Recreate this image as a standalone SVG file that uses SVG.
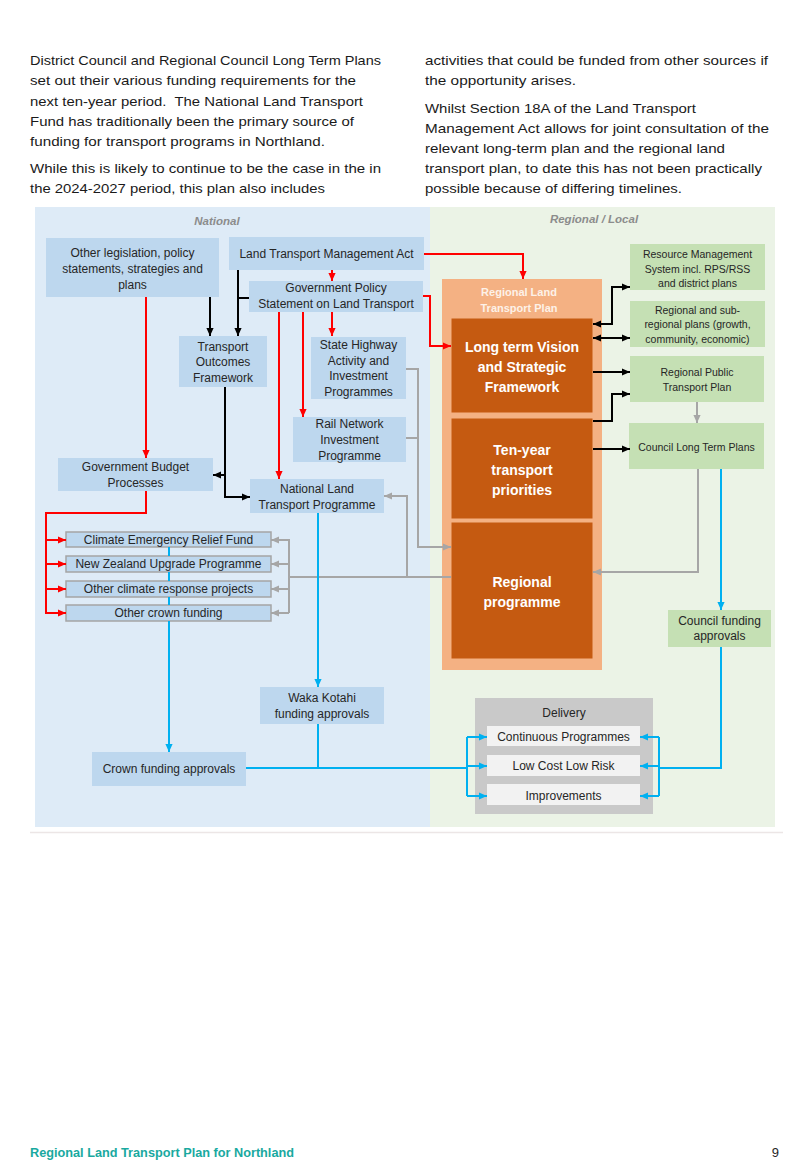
<svg xmlns="http://www.w3.org/2000/svg" width="806" height="1169" viewBox="0 0 806 1169">
<defs>
<style>
text{font-family:"Liberation Sans",Arial,sans-serif}
.p{font-size:13.5px;fill:#1a1a1a}
.t{font-size:12px;fill:#262626;text-anchor:middle}
.s{font-size:10.5px;fill:#262626;text-anchor:middle}
.w{font-size:14px;font-weight:bold;fill:#ffffff;text-anchor:middle}
.h{font-size:11.5px;font-weight:bold;font-style:italic;fill:#8c8c8c;text-anchor:middle}
.nb{fill:#bdd7ee}
.nf{fill:#bdd7ee;stroke:#a5a5a5;stroke-width:1.5}
.ng{fill:#c5e0b4}
.no{fill:#c55a11;stroke:#f4b183;stroke-width:1}
.nd{fill:#f2f2f2}
.red{stroke:#ff0000;stroke-width:2;fill:none}
.blk{stroke:#000000;stroke-width:2;fill:none}
.gry{stroke:#a6a6a6;stroke-width:2;fill:none}
.blu{stroke:#00b0f0;stroke-width:2;fill:none}
</style>
<marker id="mr" viewBox="0 0 10 10" refX="10" refY="5" markerWidth="8" markerHeight="8" markerUnits="userSpaceOnUse" orient="auto-start-reverse"><path d="M0,0.5 L10,5 L0,9.5 z" fill="#ff0000"/></marker>
<marker id="mk" viewBox="0 0 10 10" refX="10" refY="5" markerWidth="8" markerHeight="8" markerUnits="userSpaceOnUse" orient="auto-start-reverse"><path d="M0,0.5 L10,5 L0,9.5 z" fill="#000000"/></marker>
<marker id="mg" viewBox="0 0 10 10" refX="10" refY="5" markerWidth="8" markerHeight="8" markerUnits="userSpaceOnUse" orient="auto-start-reverse"><path d="M0,0.5 L10,5 L0,9.5 z" fill="#a6a6a6"/></marker>
<marker id="mb" viewBox="0 0 10 10" refX="10" refY="5" markerWidth="8" markerHeight="8" markerUnits="userSpaceOnUse" orient="auto-start-reverse"><path d="M0,0.5 L10,5 L0,9.5 z" fill="#00b0f0"/></marker>
</defs>
<rect x="0" y="0" width="806" height="1169" fill="#ffffff"/>

<g id="body-text">
<text class="p" x="30" y="65" textLength="351" lengthAdjust="spacingAndGlyphs">District Council and Regional Council Long Term Plans</text>
<text class="p" x="30" y="85" textLength="326" lengthAdjust="spacingAndGlyphs">set out their various funding requirements for the</text>
<text class="p" x="30" y="106" textLength="333" lengthAdjust="spacingAndGlyphs" xml:space="preserve">next ten-year period.  The National Land Transport</text>
<text class="p" x="30" y="126" textLength="324" lengthAdjust="spacingAndGlyphs">Fund has traditionally been the primary source of</text>
<text class="p" x="30" y="146" textLength="295" lengthAdjust="spacingAndGlyphs">funding for transport programs in Northland.</text>
<text class="p" x="30" y="173" textLength="351" lengthAdjust="spacingAndGlyphs">While this is likely to continue to be the case in the in</text>
<text class="p" x="30" y="193" textLength="295" lengthAdjust="spacingAndGlyphs">the 2024-2027 period, this plan also includes</text>
<text class="p" x="425" y="65" textLength="343" lengthAdjust="spacingAndGlyphs">activities that could be funded from other sources if</text>
<text class="p" x="425" y="85" textLength="151" lengthAdjust="spacingAndGlyphs">the opportunity arises.</text>
<text class="p" x="425" y="113" textLength="271" lengthAdjust="spacingAndGlyphs">Whilst Section 18A of the Land Transport</text>
<text class="p" x="425" y="133" textLength="344" lengthAdjust="spacingAndGlyphs">Management Act allows for joint consultation of the</text>
<text class="p" x="425" y="153" textLength="300" lengthAdjust="spacingAndGlyphs">relevant long-term plan and the regional land</text>
<text class="p" x="425" y="173" textLength="337" lengthAdjust="spacingAndGlyphs">transport plan, to date this has not been practically</text>
<text class="p" x="425" y="193" textLength="257" lengthAdjust="spacingAndGlyphs">possible because of differing timelines.</text>
</g>

<g id="panels">
<rect x="35" y="207" width="395" height="620" fill="#deebf7"/>
<rect x="430" y="207" width="345" height="620" fill="#ebf3e6"/>
<text class="h" x="217" y="225">National</text>
<text class="h" x="594" y="223">Regional / Local</text>
<line x1="30" y1="832.5" x2="783" y2="832.5" stroke="#ece6e6" stroke-width="1.5"/>
</g>

<g id="n-other-legislation"><rect class="nb" x="46" y="238" width="173" height="59"/>
<text class="t" x="132.5" y="257">Other legislation, policy</text>
<text class="t" x="132.5" y="273">statements, strategies and</text>
<text class="t" x="132.5" y="289">plans</text></g>
<g id="n-ltma"><rect class="nb" x="229" y="237" width="195" height="33"/>
<text class="t" x="326.5" y="258">Land Transport Management Act</text></g>
<g id="n-gps"><rect class="nb" x="249" y="281" width="174" height="31"/>
<text class="t" x="336" y="292">Government Policy</text>
<text class="t" x="336" y="308">Statement on Land Transport</text></g>
<g id="n-tof"><rect class="nb" x="179" y="336" width="88" height="51"/>
<text class="t" x="223" y="351">Transport</text>
<text class="t" x="223" y="366">Outcomes</text>
<text class="t" x="223" y="382">Framework</text></g>
<g id="n-state-highway"><rect class="nb" x="311" y="337" width="95" height="62"/>
<text class="t" x="358.5" y="349">State Highway</text>
<text class="t" x="358.5" y="365">Activity and</text>
<text class="t" x="358.5" y="380">Investment</text>
<text class="t" x="358.5" y="396">Programmes</text></g>
<g id="n-rail"><rect class="nb" x="293" y="417" width="113" height="45"/>
<text class="t" x="349.5" y="428">Rail Network</text>
<text class="t" x="349.5" y="444">Investment</text>
<text class="t" x="349.5" y="460">Programme</text></g>
<g id="n-nltp"><rect class="nb" x="250" y="479" width="134" height="34"/>
<text class="t" x="317" y="493">National Land</text>
<text class="t" x="317" y="509">Transport Programme</text></g>
<g id="n-budget"><rect class="nb" x="58" y="458" width="155" height="33"/>
<text class="t" x="135.5" y="471">Government Budget</text>
<text class="t" x="135.5" y="487">Processes</text></g>
<g id="n-cerf"><rect class="nf" x="66" y="532" width="205" height="15"/>
<text class="t" x="168.5" y="544">Climate Emergency Relief Fund</text></g>
<g id="n-nzup"><rect class="nf" x="66" y="556" width="205" height="16"/>
<text class="t" x="168.5" y="568">New Zealand Upgrade Programme</text></g>
<g id="n-climate"><rect class="nf" x="66" y="581" width="205" height="16"/>
<text class="t" x="168.5" y="593">Other climate response projects</text></g>
<g id="n-crown-other"><rect class="nf" x="66" y="605" width="205" height="16"/>
<text class="t" x="168.5" y="617">Other crown funding</text></g>
<g id="n-waka"><rect class="nb" x="260" y="687" width="124" height="37"/>
<text class="t" x="322" y="702">Waka Kotahi</text>
<text class="t" x="322" y="718">funding approvals</text></g>
<g id="n-crown-approvals"><rect class="nb" x="92" y="752" width="154" height="34"/>
<text class="t" x="169" y="773">Crown funding approvals</text></g>

<g id="n-rltp"><rect x="442" y="279" width="160" height="391" fill="#f4b183"/>
<text x="519" y="296" style="font-size:11px;font-weight:bold;fill:#fdf1e8;text-anchor:middle">Regional Land</text>
<text x="519" y="312" style="font-size:11px;font-weight:bold;fill:#fdf1e8;text-anchor:middle">Transport Plan</text></g>
<g id="n-ltv"><rect class="no" x="451" y="318" width="142" height="95"/>
<text class="w" x="522" y="352">Long term Vision</text>
<text class="w" x="522" y="372">and Strategic</text>
<text class="w" x="522" y="392">Framework</text></g>
<g id="n-tenyear"><rect class="no" x="451" y="418" width="142" height="101"/>
<text class="w" x="522" y="455">Ten-year</text>
<text class="w" x="522" y="475">transport</text>
<text class="w" x="522" y="495">priorities</text></g>
<g id="n-regprog"><rect class="no" x="451" y="522" width="142" height="137"/>
<text class="w" x="522" y="587">Regional</text>
<text class="w" x="522" y="607">programme</text></g>

<g id="n-rms"><rect class="ng" x="630" y="244" width="135" height="46"/>
<text class="s" x="697.5" y="258">Resource Management</text>
<text class="s" x="697.5" y="273">System incl. RPS/RSS</text>
<text class="s" x="697.5" y="287">and district plans</text></g>
<g id="n-subregional"><rect class="ng" x="630" y="301" width="135" height="46"/>
<text class="s" x="697.5" y="314">Regional and sub-</text>
<text class="s" x="697.5" y="328">regional plans (growth,</text>
<text class="s" x="697.5" y="343">community, economic)</text></g>
<g id="n-rptp"><rect class="ng" x="630" y="356" width="134" height="46"/>
<text class="s" x="697" y="376">Regional Public</text>
<text class="s" x="697" y="391">Transport Plan</text></g>
<g id="n-cltp"><rect class="ng" x="629" y="423" width="135" height="46"/>
<text class="s" x="696.5" y="451">Council Long Term Plans</text></g>
<g id="n-cfa"><rect class="ng" x="668" y="610" width="103" height="37"/>
<text class="t" x="719.5" y="625">Council funding</text>
<text class="t" x="719.5" y="640">approvals</text></g>

<g id="n-delivery"><rect x="475" y="698" width="178" height="116" fill="#c9c9c9"/>
<text class="t" x="564" y="717">Delivery</text></g>
<g id="n-continuous"><rect class="nd" x="487" y="726" width="153" height="20"/>
<text class="t" x="563.5" y="741">Continuous Programmes</text></g>
<g id="n-lclr"><rect class="nd" x="487" y="755" width="153" height="21"/>
<text class="t" x="563.5" y="770">Low Cost Low Risk</text></g>
<g id="n-improvements"><rect class="nd" x="487" y="784" width="153" height="21"/>
<text class="t" x="563.5" y="800">Improvements</text></g>

<g id="connectors">
<path class="red" d="M424,254 H523 V279" marker-end="url(#mr)"/>
<path class="red" d="M423,296 H430 V346 H451" marker-end="url(#mr)"/>
<path class="red" d="M332,270 V281" marker-end="url(#mr)"/>
<path class="red" d="M332,312 V336" marker-end="url(#mr)"/>
<path class="red" d="M279,312 V479" marker-end="url(#mr)"/>
<path class="red" d="M303,312 V417" marker-end="url(#mr)"/>
<path class="red" d="M146,297 V458" marker-end="url(#mr)"/>
<path class="red" d="M146,491 V513 H46 V613 H66" marker-end="url(#mr)"/>
<path class="red" d="M46,540 H66" marker-end="url(#mr)"/>
<path class="red" d="M46,564 H66" marker-end="url(#mr)"/>
<path class="red" d="M46,589 H66" marker-end="url(#mr)"/>

<path class="blk" d="M210,297 V336" marker-end="url(#mk)"/>
<path class="blk" d="M238,270 V336" marker-end="url(#mk)"/>
<path class="blk" d="M238,298 H249"/>
<path class="blk" d="M225,387 V497 H250" marker-end="url(#mk)"/>
<path class="blk" d="M225,475 H213" marker-end="url(#mk)"/>
<path class="blk" d="M593,324 H612 V287 H630" marker-start="url(#mk)" marker-end="url(#mk)"/>
<path class="blk" d="M593,338 H630" marker-start="url(#mk)" marker-end="url(#mk)"/>
<path class="blk" d="M593,372 H630" marker-end="url(#mk)"/>
<path class="blk" d="M593,421 H612 V394 H630" marker-end="url(#mk)"/>
<path class="blk" d="M593,449 H630" marker-end="url(#mk)"/>

<path class="gry" d="M697,402 V423" marker-end="url(#mg)"/>
<path class="gry" d="M698,469 V572 H593" marker-end="url(#mg)"/>
<path class="gry" d="M406,369 H418 V547 H451" marker-end="url(#mg)"/>
<path class="gry" d="M406,438 H418"/>
<path class="gry" d="M451,577 H289 M289,539 V613"/>
<path class="gry" d="M289,540 H271" marker-end="url(#mg)"/>
<path class="gry" d="M289,564 H271" marker-end="url(#mg)"/>
<path class="gry" d="M289,589 H271" marker-end="url(#mg)"/>
<path class="gry" d="M289,613 H271" marker-end="url(#mg)"/>
<path class="gry" d="M407,577 V496 H384" marker-end="url(#mg)"/>

<path class="blu" d="M169,547 V556 M169,572 V581 M169,597 V605"/>
<path class="blu" d="M169,621 V752" marker-end="url(#mb)"/>
<path class="blu" d="M318,513 V687" marker-end="url(#mb)"/>
<path class="blu" d="M318,724 V768"/>
<path class="blu" d="M246,768 H467 M467,737 V796"/>
<path class="blu" d="M467,737 H487" marker-end="url(#mb)"/>
<path class="blu" d="M467,766 H487" marker-end="url(#mb)"/>
<path class="blu" d="M467,796 H487" marker-end="url(#mb)"/>
<path class="blu" d="M721,469 V610" marker-end="url(#mb)"/>
<path class="blu" d="M721,647 V768 H659 M659,737 V796"/>
<path class="blu" d="M659,737 H640" marker-end="url(#mb)"/>
<path class="blu" d="M659,766 H640" marker-end="url(#mb)"/>
<path class="blu" d="M659,796 H640" marker-end="url(#mb)"/>
</g>

<g id="footer">
<text x="30" y="1157" textLength="264" lengthAdjust="spacingAndGlyphs" style="font-size:12.5px;font-weight:bold;fill:#19a9a0">Regional Land Transport Plan for Northland</text>
<text x="779" y="1157" style="font-size:13px;fill:#262626;text-anchor:end">9</text>
</g>
</svg>
